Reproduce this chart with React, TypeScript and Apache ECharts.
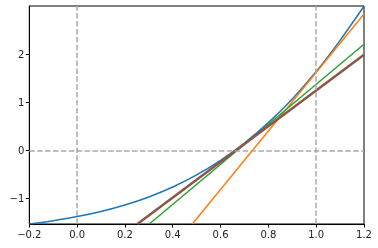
import React, { useEffect, useRef } from "react";
import * as echarts from "echarts";

const curveX = [-0.2, -0.1, 0, 0.1, 0.2, 0.3, 0.4, 0.5, 0.6, 0.7, 0.8, 0.9, 1.0, 1.1, 1.2];
const curveY = [-1.535, -1.465, -1.38, -1.273, -1.139, -0.972, -0.765, -0.513, -0.209, 0.152, 0.577, 1.071, 1.64, 2.291, 3.0];

const orangeLine = [[0.482, -1.535], [1.2, 2.84]];
const greenLine = [[0.302, -1.535], [1.2, 2.21]];
const brownLine = [[0.252, -1.535], [1.2, 1.99]];

const xTicks = [-0.2, 0, 0.2, 0.4, 0.6, 0.8, 1.0, 1.2];
const yTicks = [-1, 0, 1, 2];
const vLines = [0, 1];
const hLines = [0];

const X_MIN = -0.2;
const X_MAX = 1.2;
const Y_MIN = -1.535;
const Y_MAX = 3.006;

const fmt = (v: number, d: number) => {
  const s = v.toFixed(d);
  return s.startsWith("-") ? "\u2212" + s.slice(1) : s;
};

export default function App() {
  const ref = useRef<HTMLDivElement>(null);
  useEffect(() => {
    if (!ref.current) return;
    const chart = echarts.init(ref.current, undefined, { renderer: "svg" });
    const dash = { color: "#aaaaaa", width: 1.5, type: [5.5, 2.4] as any };
    chart.setOption({
      animation: false,
      grid: {
        left: 29.3,
        right: 14,
        top: 6,
        bottom: 24,
        show: true,
        borderColor: "#000",
        borderWidth: 1,
        backgroundColor: "transparent",
      },
      xAxis: {
        type: "value",
        min: X_MIN,
        max: X_MAX,
        splitLine: { show: false },
        axisLine: { show: true, onZero: false, lineStyle: { color: "#000", width: 1 } },
        axisTick: { show: true, inside: false, length: 3.5, lineStyle: { color: "#000" }, customValues: xTicks },
        axisLabel: {
          customValues: xTicks,
          formatter: (v: number) => fmt(v, 1),
          color: "#222",
          fontSize: 10,
          fontFamily: "DejaVu Sans",
          margin: 5,
        },
      },
      yAxis: {
        type: "value",
        min: Y_MIN,
        max: Y_MAX,
        splitLine: { show: false },
        axisLine: { show: true, onZero: false, lineStyle: { color: "#000", width: 1 } },
        axisTick: { show: true, inside: false, length: 3.5, lineStyle: { color: "#000" }, customValues: yTicks },
        axisLabel: {
          customValues: yTicks,
          formatter: (v: number) => fmt(v, 0),
          color: "#222",
          fontSize: 10,
          fontFamily: "DejaVu Sans",
          margin: 5,
        },
      },
      series: [
        {
          type: "line",
          data: [],
          markLine: {
            silent: true,
            symbol: ["none", "none"],
            label: { show: false },
            lineStyle: dash,
            data: [
              ...vLines.map((v) => ({ xAxis: v })),
              ...hLines.map((v) => ({ yAxis: v })),
            ],
          },
        },
        {
          type: "line",
          data: curveX.map((x, i) => [x, curveY[i]]),
          smooth: 0.3,
          showSymbol: false,
          lineStyle: { color: "#1f77b4", width: 1.5 },
          z: 3,
        },
        {
          type: "line",
          data: orangeLine,
          showSymbol: false,
          lineStyle: { color: "#ff7f0e", width: 1.5 },
          z: 3,
        },
        {
          type: "line",
          data: greenLine,
          showSymbol: false,
          lineStyle: { color: "#2ca02c", width: 1.5 },
          z: 3,
        },
        {
          type: "line",
          data: brownLine,
          showSymbol: false,
          lineStyle: { color: "#8c564b", width: 2.5 },
          z: 3,
        },
      ],
    });
    return () => chart.dispose();
  }, []);
  return (
    <div
      ref={ref}
      style={{ position: "fixed", left: 0, top: 0, width: 378, height: 248 }}
    />
  );
}
